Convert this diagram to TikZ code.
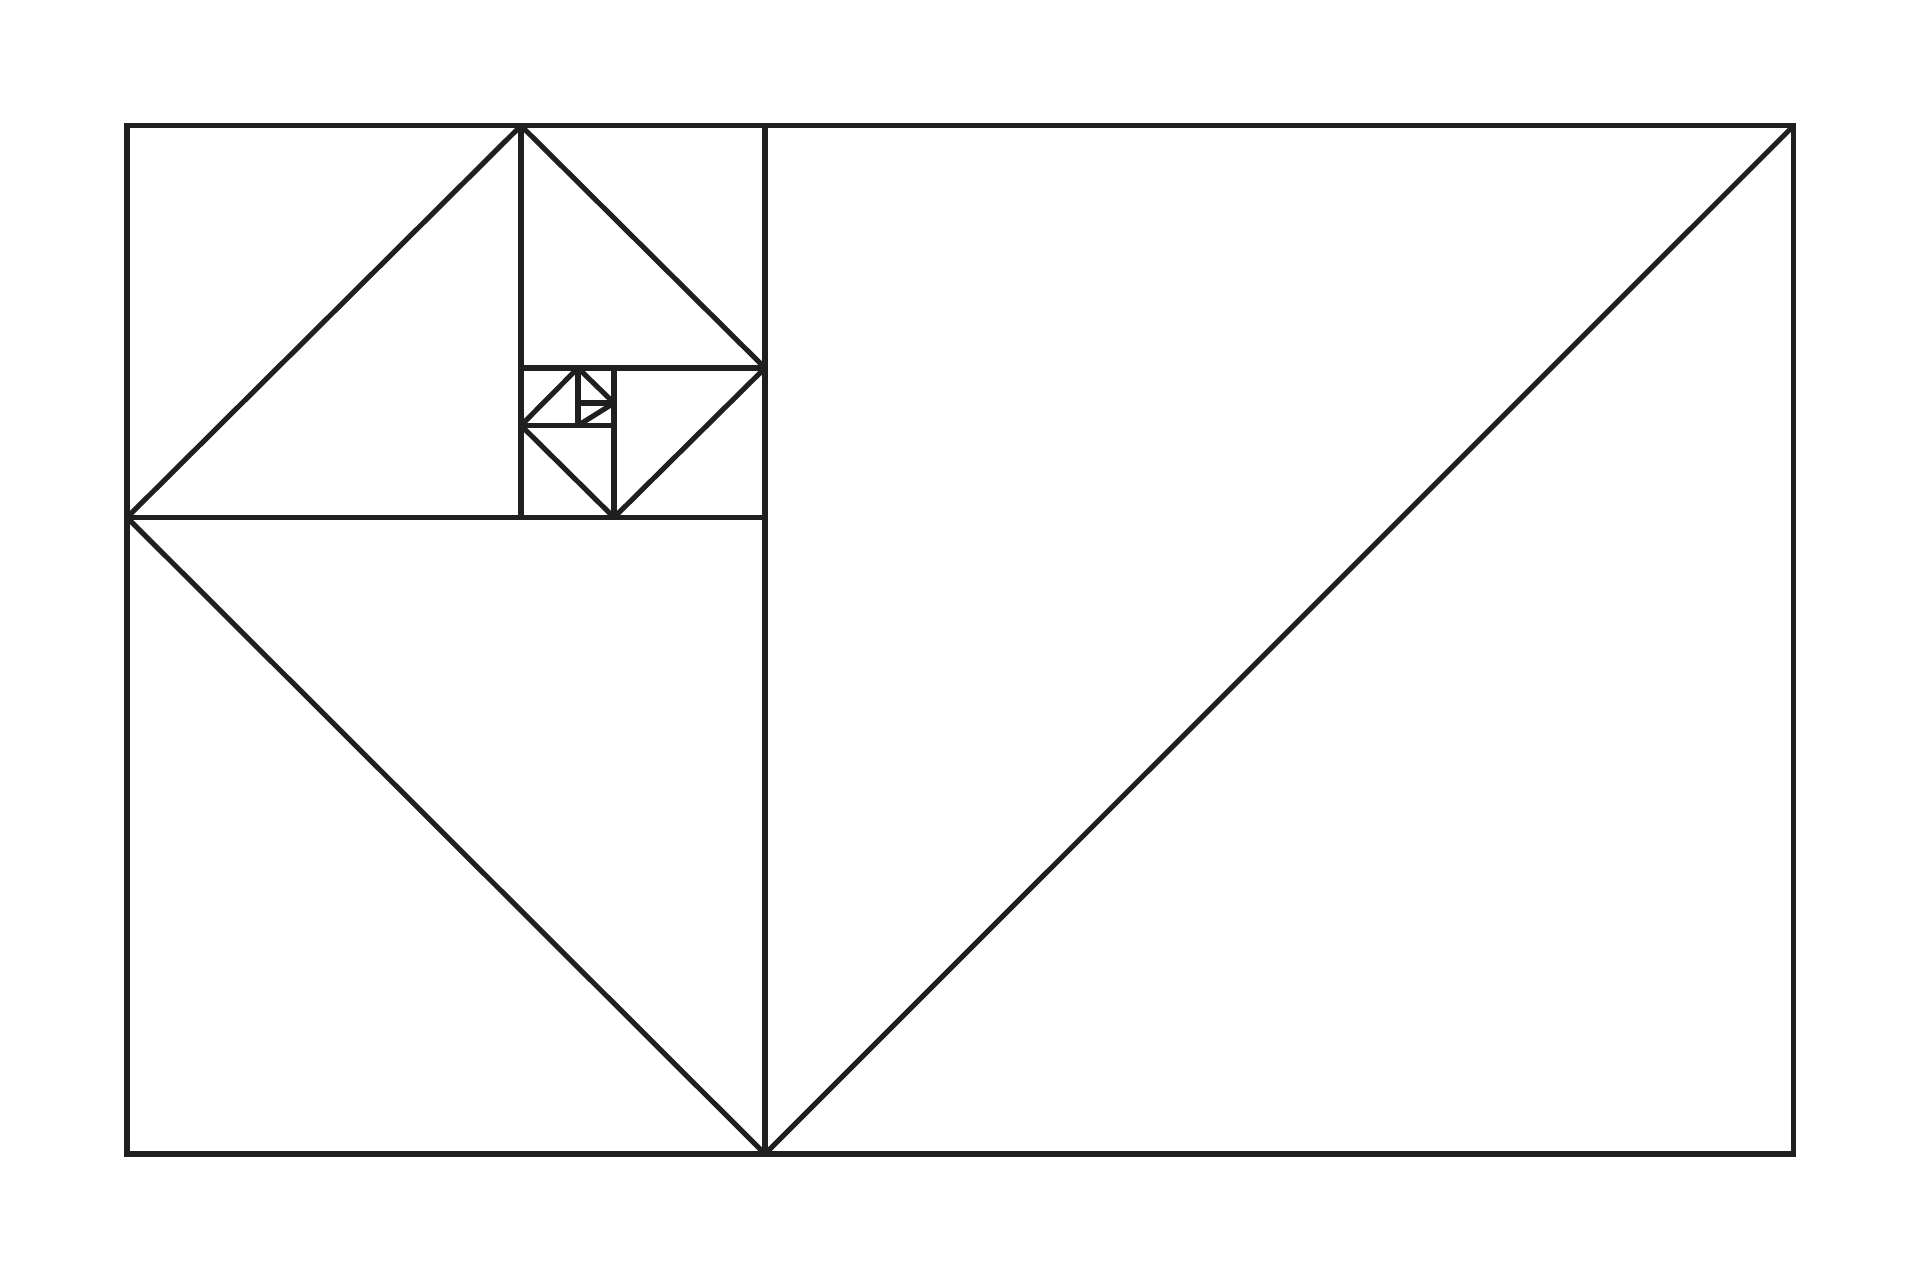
\documentclass[tikz,border=0pt]{standalone}
\begin{document}
\begin{tikzpicture}[x=0.01cm,y=-0.01cm,
  ln/.style={draw=black!88,line width=1.45pt,line join=miter}]
\useasboundingbox[fill=white] (0,0) rectangle (1920,1280);
% grid values
\def\Xa{127}\def\Xb{521}\def\Xc{578}\def\Xd{614}\def\Xe{765}\def\Xf{1793.7}
\def\Ya{125.7}\def\Yb{368}\def\Yc{403}\def\Yd{425.5}\def\Ye{517.5}\def\Yf{1154}
\coordinate (tl) at (\Xa,\Ya);
\coordinate (br) at (\Xf,\Yf);
% outer frame
\draw[ln] (tl) rectangle (br);
% square divisions
\draw[ln] (\Xe,\Ya) -- (\Xe,\Yf);
\draw[ln] (\Xa,\Ye) -- (\Xe,\Ye);
\draw[ln] (\Xb,\Ya) -- (\Xb,\Ye);
\draw[ln] (\Xb,\Yb) -- (\Xe,\Yb);
\draw[ln] (\Xd,\Yb) -- (\Xd,\Ye);
\draw[ln] (\Xb,\Yd) -- (\Xd,\Yd);
\draw[ln] (\Xc,\Yb) -- (\Xc,\Yd);
\draw[ln] (\Xc,\Yc) -- (\Xd,\Yc);
% diagonals
\draw[ln] (\Xe,\Yf) -- (\Xf,\Ya);
\draw[ln] (\Xa,\Ye) -- (\Xe,\Yf);
\draw[ln] (\Xa,\Ye) -- (\Xb,\Ya);
\draw[ln] (\Xb,\Ya) -- (\Xe,\Yb);
\draw[ln] (\Xe,\Yb) -- (\Xd,\Ye);
\draw[ln] (\Xd,\Ye) -- (\Xb,\Yd);
\draw[ln] (\Xb,\Yd) -- (\Xc,\Yb);
\draw[ln] (\Xc,\Yb) -- (\Xd,\Yc);
\draw[ln] (\Xd,\Yc) -- (\Xc,\Yd);
\end{tikzpicture}
\end{document}
